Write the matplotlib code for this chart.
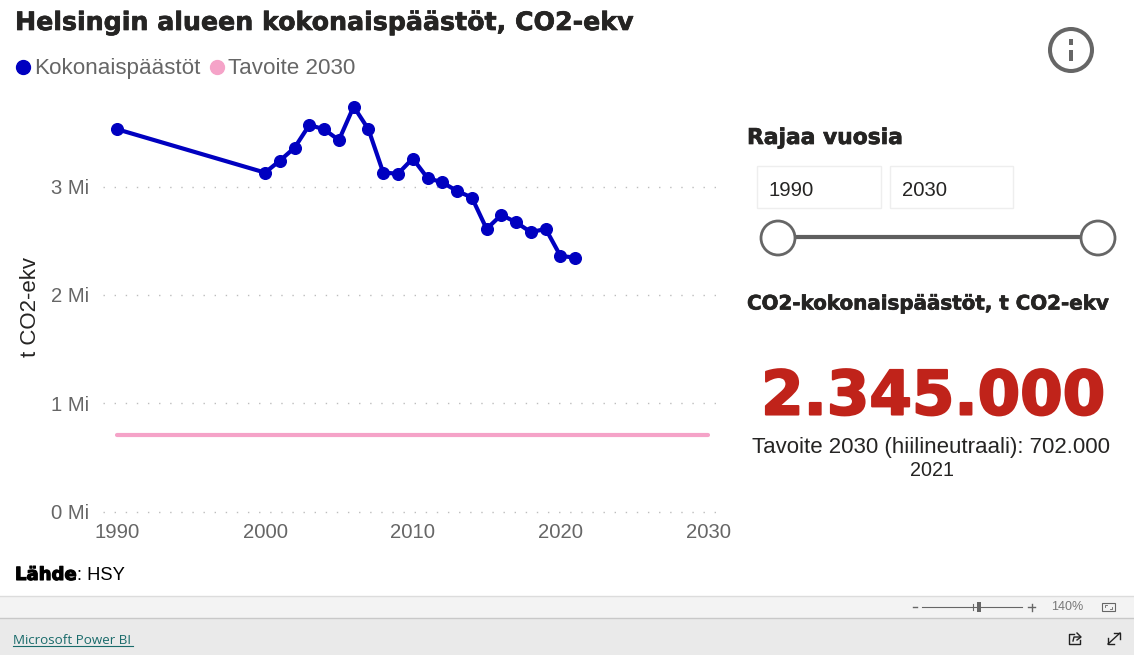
import matplotlib
matplotlib.use("Agg")
import matplotlib.pyplot as plt
from matplotlib.patches import Circle, Rectangle
import matplotlib.patheffects as pe

# data
years = [1990, 2000, 2001, 2002, 2003, 2004, 2005, 2006, 2007, 2008, 2009, 2010,
         2011, 2012, 2013, 2014, 2015, 2016, 2017, 2018, 2019, 2020, 2021]
emissions = [3.53, 3.13, 3.24, 3.36, 3.57, 3.53, 3.43, 3.74, 3.53, 3.13, 3.12, 3.26,
             3.08, 3.04, 2.96, 2.90, 2.61, 2.74, 2.67, 2.58, 2.61, 2.36, 2.345]
target_years = [1990, 2030]
target = [0.702, 0.702]
x_ticks = [1990, 2000, 2010, 2020, 2030]
y_ticks = [0, 1, 2, 3]
y_tick_labels = ["0 Mi", "1 Mi", "2 Mi", "3 Mi"]

W, H = 1134, 655
BLUE = "#0000c0"
PINK = "#f5a3c8"
GRAY = "#666666"
DARK = "#252423"
BODY = "Liberation Sans"
HEAVY = "DejaVu Sans"

plt.rcParams["font.family"] = BODY
fig = plt.figure(figsize=(W / 100, H / 100), dpi=100, facecolor="white")

# main chart, placed in pixels
left, right, top, bottom = 103, 720, 90, 511.5
ax = fig.add_axes([left / W, 1 - bottom / H, (right - left) / W, (bottom - top) / H])
ax.plot(target_years, target, color=PINK, lw=3, solid_capstyle="round", clip_on=False)
ax.plot(years, emissions, color=BLUE, lw=3, marker="o", ms=8.4, clip_on=False)
ax.set_xlim(1989.03, 2030.8)
ax.set_ylim(0, 3.893)
ax.set_xticks(x_ticks)
ax.set_yticks(y_ticks)
ax.set_yticklabels(y_tick_labels)
ax.tick_params(length=0, labelsize=14.6, labelcolor=GRAY)
ax.tick_params(axis="x", pad=8)
ax.tick_params(axis="y", pad=10)
ax.grid(axis="y", color="#bdbdbd", lw=1, linestyle=(0, (1, 7)))
for gl in ax.get_ygridlines():
    gl.set_clip_on(False)
ax.set_axisbelow(True)
for side in ax.spines.values():
    side.set_visible(False)
ax.set_ylabel("t CO2-ekv", fontsize=16, color=DARK)
ax.yaxis.set_label_coords((41 - left) / (right - left), (bottom - 307) / (bottom - top))

# everything around the chart, in pixel coordinates
ui = fig.add_axes([0, 0, 1, 1], zorder=-1)
ui.set_xlim(0, W)
ui.set_ylim(H, 0)
ui.axis("off")


def label(x, y, s, **kw):
    kw.setdefault("va", "center")
    return ui.text(x, y, s, **kw)


def heavy(x, y, s, size, color=DARK, stroke=0.5, **kw):
    t = label(x, y, s, fontsize=size, color=color, family=HEAVY, fontweight="bold", **kw)
    t.set_path_effects([pe.withStroke(linewidth=stroke, foreground=color)])
    return t


heavy(15, 23, "Helsingin alueen kokonaispäästöt, CO2-ekv", 18.2)
heavy(747, 138, "Rajaa vuosia", 15.7)
heavy(747, 304, "CO2-kokonaispäästöt, t CO2-ekv", 14.3)
heavy(933, 398, "2.345.000", 44, color="#c0231a", stroke=1.5, ha="center")
label(931, 447.5, "Tavoite 2030 (hiilineutraali): 702.000", fontsize=16, color=DARK, ha="center")
label(932, 471, "2021", fontsize=14.2, color=DARK, ha="center")

# legend
ui.plot([23], [67], "o", color=BLUE, ms=10)
ui.plot([217], [67], "o", color=PINK, ms=10)
label(34, 74, "Kokonaispäästöt", fontsize=16.1, color=GRAY, va="baseline")
label(228, 74, "Tavoite 2030", fontsize=16.1, color=GRAY, va="baseline")

heavy(15, 575, "Lähde", 13, color="black", stroke=0.8)
label(77, 575, ": HSY", fontsize=13.2, color="black")

# info icon
ui.add_patch(Circle((1071, 50), 21, fc="white", ec=GRAY, lw=2.9))
ui.add_patch(Rectangle((1068.5, 39), 4.5, 6, fc=GRAY, ec="none", zorder=3))
ui.add_patch(Rectangle((1068.5, 50), 4.5, 11, fc=GRAY, ec="none", zorder=3))

# year slicer
for x0, w0, s in [(757, 124, "1990"), (890, 123, "2030")]:
    ui.add_patch(Rectangle((x0, 165.5), w0, 42, fc="white", ec="#eeeeee", lw=1))
    label(x0 + 12, 190, s, fontsize=14.6, color=DARK)
ui.plot([778, 1098], [237, 237], color="#5f5f5f", lw=3, solid_capstyle="butt", zorder=2)
for cx in (778, 1098):
    ui.add_patch(Circle((cx, 238), 17, fc="white", ec=GRAY, lw=2, zorder=3))

# report footer
ui.add_patch(Rectangle((0, 596), W, 22, fc="#f3f3f3", ec="none"))
ui.add_patch(Rectangle((0, 618), W, 37, fc="#eaeaea", ec="none"))
ui.plot([0, W], [595.5, 595.5], color="#dcdcdc", lw=1)
ui.plot([0, W], [618, 618], color="#c8c8c8", lw=1)
label(13, 640, "Microsoft Power BI", fontsize=9.6, color="#1a6b6b", family="Open Sans")
ui.plot([13, 133], [646, 646], color="#1a6b6b", lw=0.8)

ui.plot([922, 1022], [607, 607], color=GRAY, lw=0.8)
ui.plot([973, 973], [604, 610], color=GRAY, lw=0.8)
ui.add_patch(Rectangle((977, 602), 4, 10, fc=GRAY, ec="none"))
ui.plot([913, 917], [607, 607], color=GRAY, lw=1)
ui.plot([1028, 1035], [607, 607], color=GRAY, lw=1)
ui.plot([1031.5, 1031.5], [603.5, 610.5], color=GRAY, lw=1)
label(1067, 607.5, "140%", fontsize=9, color="#777777", ha="center", family="Liberation Sans")

# fit-to-page icon
ui.add_patch(Rectangle((1102, 603), 13, 8, fc="#f3f3f3", ec=GRAY, lw=0.8))
ui.plot([1105, 1105, 1107], [607, 605, 605], color=GRAY, lw=0.6)
ui.plot([1112, 1112, 1110], [607, 609, 609], color=GRAY, lw=0.6)

# share icon
ui.plot([1074, 1069, 1069, 1080, 1080], [634, 634, 644, 644, 640], color="#222222", lw=1)
ui.plot([1073, 1074, 1080], [641, 637, 637], color="#222222", lw=1)
ui.plot([1077, 1081, 1077], [633, 637, 640], color="#222222", lw=1)

# expand icon
ui.plot([1108, 1120], [644, 633], color="#222222", lw=1)
ui.plot([1114, 1120, 1120], [633, 633, 639], color="#222222", lw=1)
ui.plot([1108, 1108, 1114], [638, 644, 644], color="#222222", lw=1)

fig.savefig("out.png", dpi=100)
